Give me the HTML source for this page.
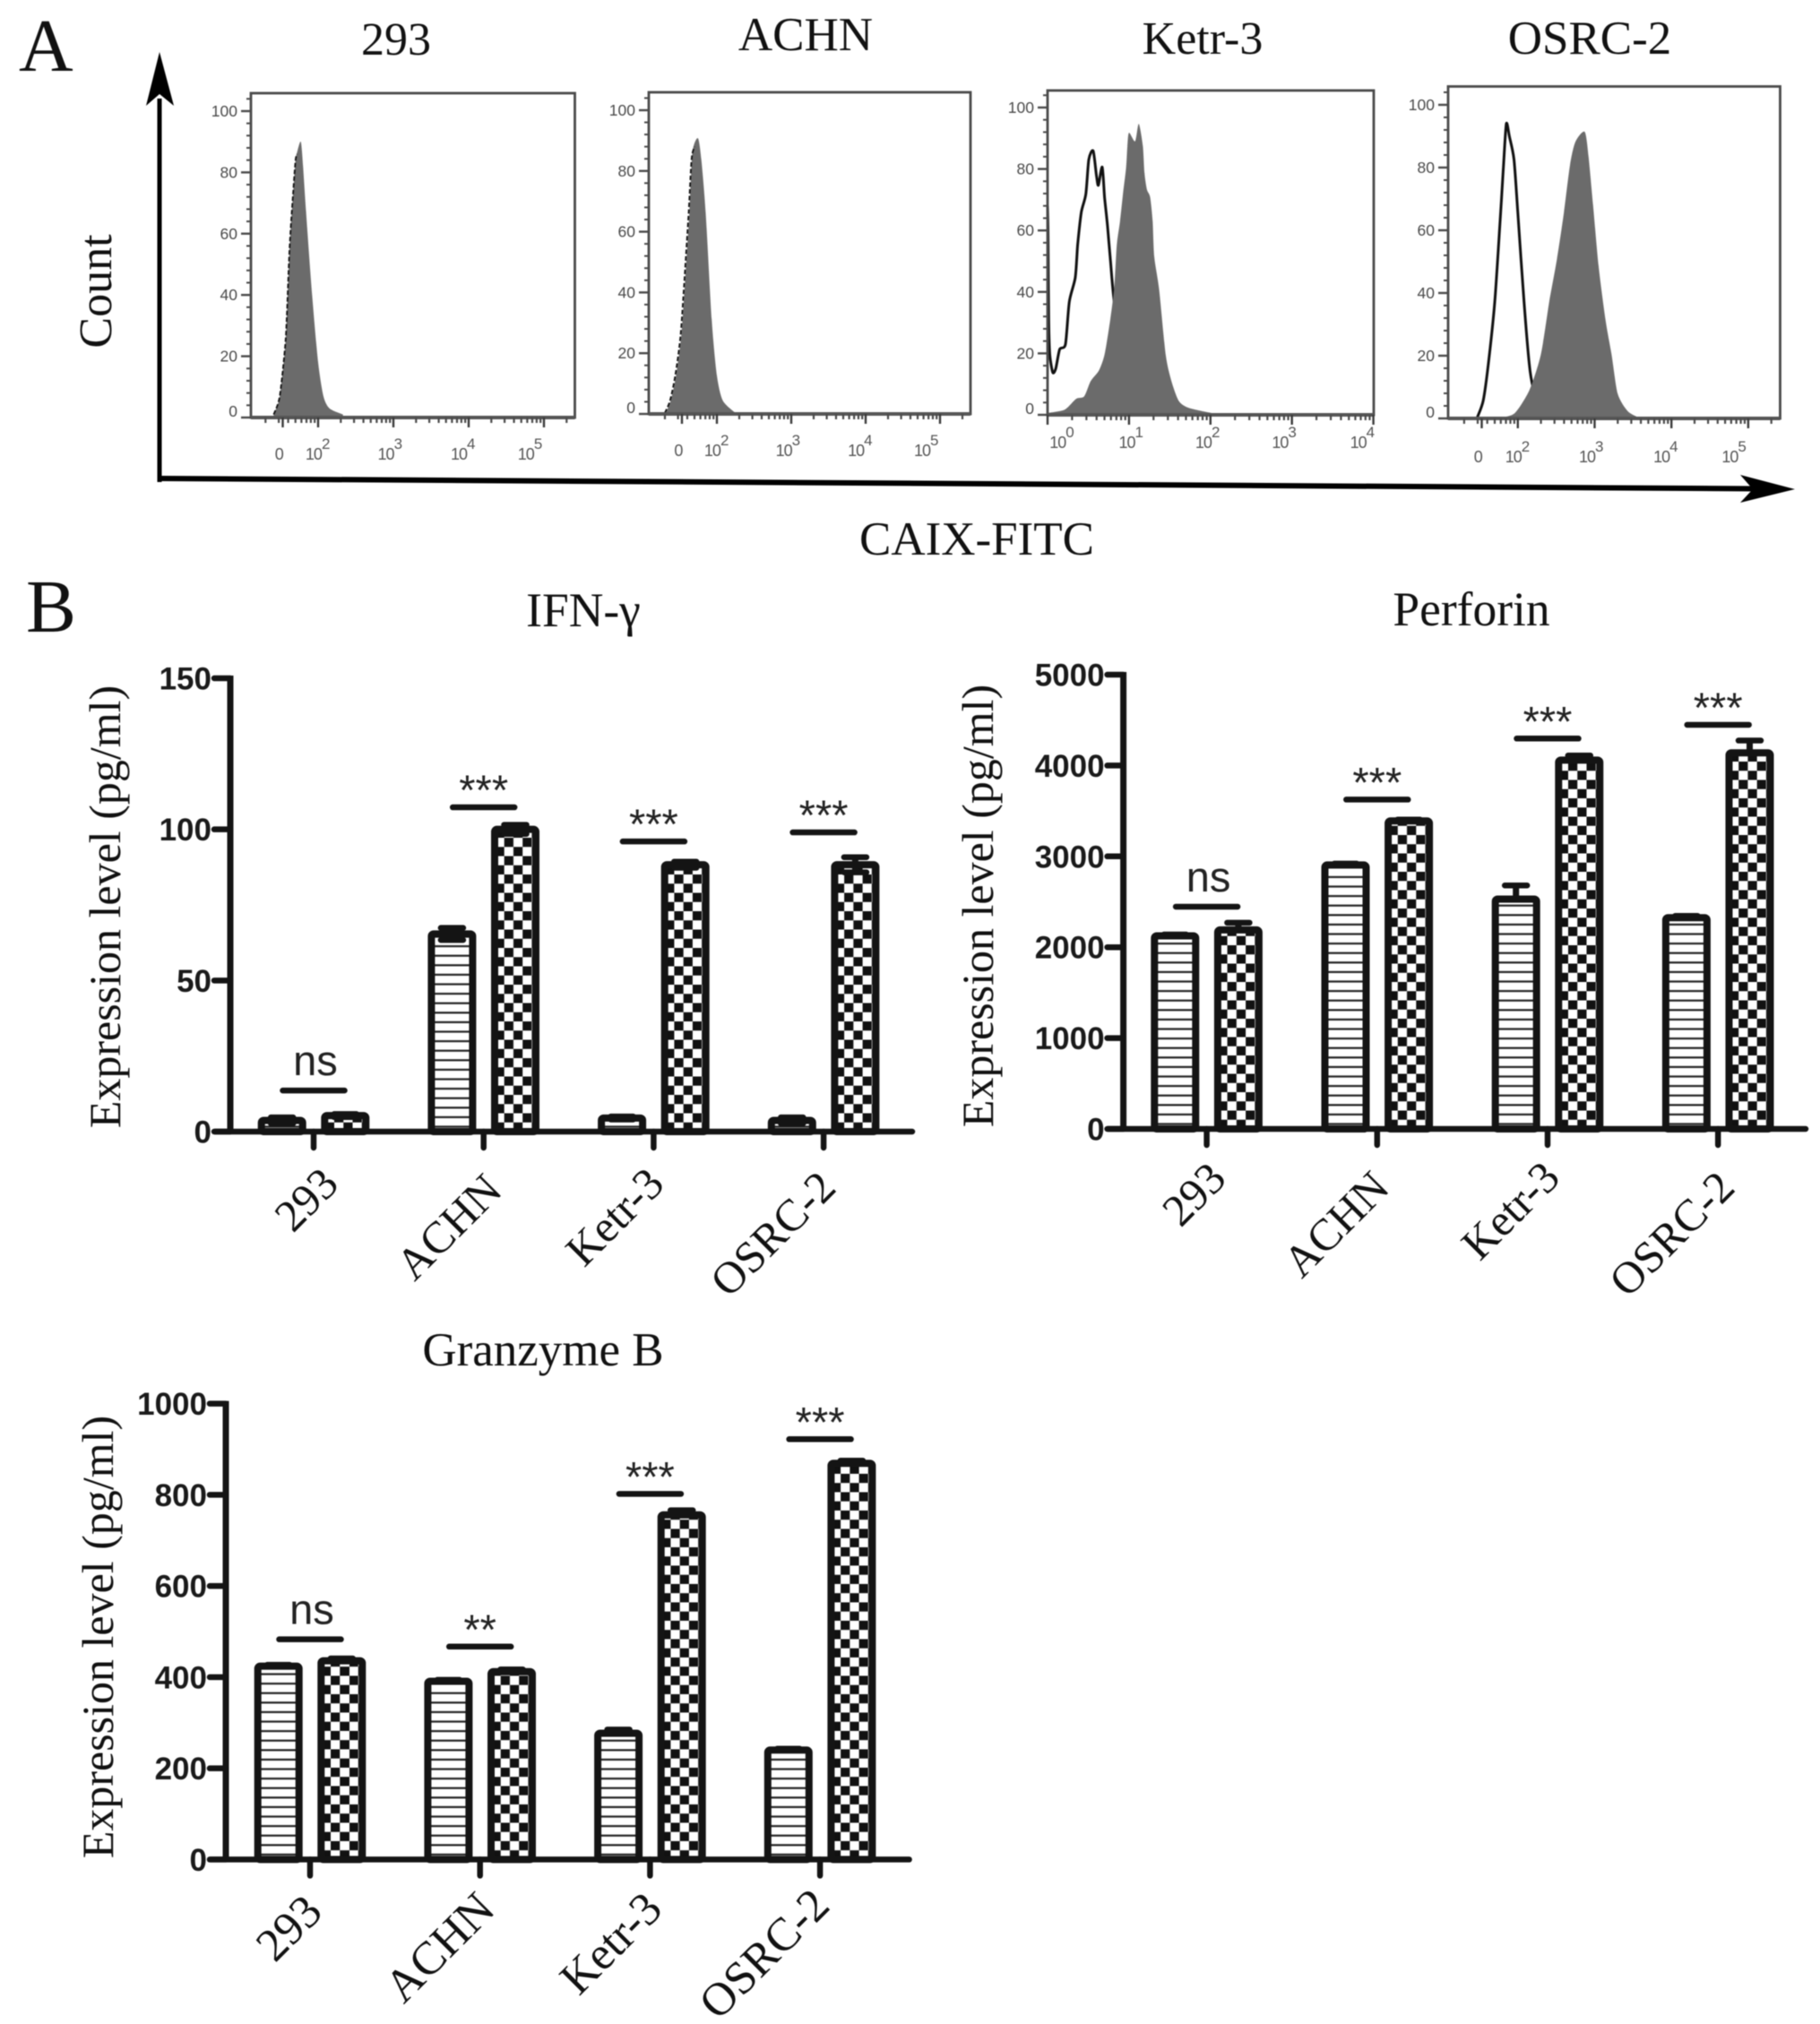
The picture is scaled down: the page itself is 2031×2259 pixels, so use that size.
<!DOCTYPE html>
<html lang="en">
<head>
<meta charset="utf-8">
<title>CAIX expression and cytokine release</title>
<style>
html,body{margin:0;padding:0;background:#fff;}
#figure{display:block;width:2031px;height:2259px;background:#fff;filter:blur(.5px);}
.serif{font-family:"Liberation Serif",serif;fill:#111;}
.sans{font-family:"Liberation Sans",sans-serif;}
</style>
</head>
<body>
<svg id="figure" xmlns="http://www.w3.org/2000/svg" width="2031" height="2259" viewBox="0 0 2031 2259">
  <defs>
    <pattern id="hatch-lines" patternUnits="userSpaceOnUse" width="10" height="10.6">
      <rect width="10" height="10.6" fill="#fff"/>
      <rect y="4" width="10" height="2.2" fill="#222"/>
    </pattern>
    <pattern id="hatch-check" patternUnits="userSpaceOnUse" width="20.5" height="20.5">
      <rect width="20.5" height="20.5" fill="#fff"/>
      <rect width="10.25" height="10.25" fill="#111"/>
      <rect x="10.25" y="10.25" width="10.25" height="10.25" fill="#111"/>
    </pattern>
  </defs>

  <text class="serif" x="21" y="79" font-size="84">A</text>
  <text class="serif" x="29" y="705" font-size="84">B</text>

  <text class="serif" x="442" y="61" font-size="52" text-anchor="middle">293</text>
  <text class="serif" x="899" y="56" font-size="53" text-anchor="middle">ACHN</text>
  <text class="serif" x="1342" y="60" font-size="52" text-anchor="middle">Ketr-3</text>
  <text class="serif" x="1774" y="60" font-size="53" text-anchor="middle">OSRC-2</text>

  <text class="serif" transform="translate(124,325) rotate(-90)" font-size="52" text-anchor="middle">Count</text>
  <text class="serif" x="1090" y="619" font-size="53" text-anchor="middle">CAIX-FITC</text>

  <g>
    <line x1="178" y1="538" x2="178" y2="110" stroke="#000" stroke-width="5"/>
    <polygon points="178,58 194,118 178,105 163,118" fill="#000"/>
  </g>
  <g>
    <line x1="178" y1="534" x2="1960" y2="545.5" stroke="#000" stroke-width="6"/>
    <polygon points="2003,546 1942,530 1956,546 1942,561" fill="#000"/>
  </g>

  <text class="serif" x="651" y="699" font-size="53.5" text-anchor="middle">IFN-γ</text>
  <text class="serif" x="1642" y="698" font-size="53.5" text-anchor="middle">Perforin</text>
  <text class="serif" x="606" y="1524" font-size="53" text-anchor="middle">Granzyme B</text>

  <text class="serif" transform="translate(134,1012) rotate(-90)" font-size="50" text-anchor="middle">Expression level (pg/ml)</text>
  <text class="serif" transform="translate(1108,1011) rotate(-90)" font-size="50" text-anchor="middle">Expression level (pg/ml)</text>
  <text class="serif" transform="translate(126,1827) rotate(-90)" font-size="50" text-anchor="middle">Expression level (pg/ml)</text>

  <g id="flow-layer"></g>
  <g id="bar-layer"></g>
</svg>

<script>
// ---------- Flow cytometry data (axis position in decades, count in %) ----------
const yCountTicks = [0, 20, 40, 60, 80, 100];

const biexpTicks = [1.53, 2, 3, 4, 5];
const biexpExponents = [null, 2, 3, 4, 5];
const biexpLabelAt = [1.48, 1.99, 2.95, 3.92, 4.81];
const logTicks = [0, 1, 2, 3, 4];
const logExponents = [0, 1, 2, 3, 4];
const logLabelAt = [0.17, 1.02, 1.96, 2.9, 3.86];

const fill293X = [1.41, 1.49, 1.57, 1.62, 1.67, 1.70, 1.72, 1.77, 1.80, 1.84, 1.92, 2.00, 2.07, 2.15, 2.33];
const fill293Count = [1, 7, 26, 55, 74, 84, 86.5, 90, 82, 67, 40, 18, 7, 3, 1];
const ctrl293X = [1.41, 1.49, 1.57, 1.62, 1.67, 1.70, 1.72];
const ctrl293Count = [1, 7, 26, 55, 74, 84, 86];

const fillAchnX = [1.31, 1.38, 1.45, 1.52, 1.57, 1.63, 1.67, 1.745, 1.79, 1.85, 1.93, 2.00, 2.08, 2.25];
const fillAchnCount = [0.3, 4.4, 12.6, 25.4, 42.9, 66.2, 86, 90.8, 83.8, 66.2, 31.2, 12.6, 4.4, 0.3];
const ctrlAchnX = [1.30, 1.37, 1.44, 1.51, 1.56, 1.62, 1.66, 1.70];
const ctrlAchnCount = [0.3, 4.4, 12.6, 25.4, 42.9, 66.2, 84, 88];

const fillKetrX = [0, 0.21, 0.35, 0.45, 0.53, 0.63, 0.70, 0.77, 0.82, 0.85, 0.89, 0.93, 0.965, 0.98, 1.0, 1.075, 1.12, 1.17, 1.19, 1.22, 1.26, 1.29, 1.31, 1.37, 1.45, 1.52, 1.61, 1.73, 2.01];
const fillKetrCount = [0.6, 1.7, 5.2, 6, 11, 14.4, 19.6, 31, 41.7, 55.4, 63, 72.8, 80.6, 87.4, 91.8, 89, 94.7, 87.4, 78.7, 73.3, 70.8, 63, 51.4, 40.8, 19.6, 11, 4.6, 2.3, 0.6];
const ctrlKetrX = [0, 0.007, 0.014, 0.028, 0.064, 0.10, 0.149, 0.22, 0.267, 0.34, 0.37, 0.415, 0.47, 0.506, 0.56, 0.60, 0.624, 0.671, 0.70, 0.737, 0.774, 0.81, 0.915, 1.02];
const ctrlKetrCount = [68, 57.7, 31, 19.6, 13.8, 15, 21.3, 23, 36.8, 44.6, 55.4, 66, 71.8, 83, 85.9, 78, 74.7, 80.6, 70.8, 61.2, 49.5, 38.8, 14, 1];

const fillOsrcX = [1.77, 1.96, 2.15, 2.30, 2.41, 2.51, 2.60, 2.68, 2.75, 2.87, 2.92, 2.98, 3.05, 3.14, 3.22, 3.30, 3.43, 3.58];
const fillOsrcCount = [0.2, 1.7, 9, 20.4, 37.3, 50.9, 65.6, 80.9, 88.2, 91.4, 83.7, 67.9, 48.9, 31.7, 20.4, 7.9, 2.3, 0.2];
const ctrlOsrcX = [1.47, 1.55, 1.62, 1.70, 1.77, 1.81, 1.85, 1.89, 1.95, 2.00, 2.08, 2.15, 2.20, 2.30];
const ctrlOsrcCount = [0.2, 5.7, 18.1, 37.3, 63.3, 79.2, 93.9, 89.9, 82.6, 65.6, 37.3, 17, 9.6, 1];

// ---------- Bar chart data ----------
const categories = ['293', 'ACHN', 'Ketr-3', 'OSRC-2'];

const ifnTicks = [0, 50, 100, 150];
const ifnEffector = [3.7, 65.4, 4.5, 3.7];
const ifnEffectorErr = [1, 2, 0.5, 1];
const ifnCar = [5.3, 100, 88.3, 88.3];
const ifnCarErr = [0.5, 1.5, 1, 2.5];
const ifnSigLevel = [13.6, 107.3, 96, 99];
const ifnSigLabel = ['ns', '***', '***', '***'];

const perfTicks = [0, 1000, 2000, 3000, 4000, 5000];
const perfEffector = [2125, 2905, 2530, 2325];
const perfEffectorErr = [15, 15, 150, 20];
const perfCar = [2190, 3390, 4060, 4140];
const perfCarErr = [80, 15, 50, 135];
const perfSigLevel = [2446, 3625, 4297, 4448];
const perfSigLabel = ['ns', '***', '***', '***'];

const gzmTicks = [0, 200, 400, 600, 800, 1000];
const gzmEffector = [424, 391, 277, 240];
const gzmEffectorErr = [3, 3, 8, 3];
const gzmCar = [436, 412, 756, 869];
const gzmCarErr = [5, 5, 10, 6];
const gzmSigLevel = [483, 467, 802, 922];
const gzmSigLabel = ['ns', '**', '***', '***'];

// ---------- Helpers ----------
const NS = 'http://www.w3.org/2000/svg';
function mk(parent, tag, attrs, text) {
  const el = document.createElementNS(NS, tag);
  for (const k in attrs) el.setAttribute(k, attrs[k]);
  if (text !== undefined) el.textContent = text;
  parent.appendChild(el);
  return el;
}
// Lightly smoothed curve through the read points
function pathFrom(xs, ys, xFn, yFn) {
  const px = xs.map(xFn);
  const py = ys.map(yFn);
  let d = 'M' + px[0].toFixed(1) + ' ' + py[0].toFixed(1);
  const k = 1 / 8;
  for (let i = 0; i < px.length - 1; i++) {
    const a = Math.max(i - 1, 0);
    const b = Math.min(i + 2, px.length - 1);
    const c1x = px[i] + (px[i + 1] - px[a]) * k;
    const c1y = py[i] + (py[i + 1] - py[a]) * k;
    const c2x = px[i + 1] - (px[b] - px[i]) * k;
    const c2y = py[i + 1] - (py[b] - py[i]) * k;
    d += ' C' + c1x.toFixed(1) + ' ' + c1y.toFixed(1) + ' ' + c2x.toFixed(1) + ' ' + c2y.toFixed(1) + ' ' + px[i + 1].toFixed(1) + ' ' + py[i + 1].toFixed(1);
  }
  return d;
}

// ---------- Flow histograms ----------
function drawFlow(name, cfg) {
  const layer = document.getElementById('flow-layer');
  const g = mk(layer, 'g', {});
  
  
  const xPos = d => cfg.originX + (d - cfg.originD) * cfg.decade;
  const yPos = c => cfg.y0 - c / 100 * (cfg.y0 - cfg.y100);

  if (!cfg.ctrlOnTop) {
    const ctrlUnder = mk(g, 'path', {d: pathFrom(cfg.ctrlX, cfg.ctrlC, xPos, yPos), fill: 'none', stroke: '#111', 'stroke-width': 3});
    
    
  }
  const first = xPos(cfg.fillX[0]).toFixed(1);
  const last = xPos(cfg.fillX[cfg.fillX.length - 1]).toFixed(1);
  const area = mk(g, 'path', {
    d: pathFrom(cfg.fillX, cfg.fillC, xPos, yPos) + ' L' + last + ' ' + cfg.y0 + ' L' + first + ' ' + cfg.y0 + ' Z',
    fill: '#6b6b6b'
  });
  
  
  if (cfg.ctrlOnTop) {
    const ctrlOver = mk(g, 'path', {d: pathFrom(cfg.ctrlX, cfg.ctrlC, xPos, yPos), fill: 'none', stroke: '#111', 'stroke-width': 1.8, 'stroke-dasharray': '5 2.5'});
    
    
  }

  const box = mk(g, 'rect', {x: cfg.left, y: cfg.top, width: cfg.right - cfg.left, height: cfg.y0 - cfg.top, fill: 'none', stroke: '#4a4a4a', 'stroke-width': 2.8});
  
  
  const base = mk(g, 'line', {x1: cfg.left, x2: cfg.right, y1: cfg.y0, y2: cfg.y0, stroke: '#555', 'stroke-width': 4});
  
  

  // y ticks
  for (let c = 0; c <= 105; c += 4) {
    const major = c % 20 === 0;
    const t = mk(g, 'line', {x1: cfg.left - (major ? 11 : 5), x2: cfg.left, y1: yPos(c), y2: yPos(c), stroke: '#4a4a4a', 'stroke-width': major ? 2.4 : 2});
    
    
  }
  yCountTicks.forEach(c => {
    const lab = mk(g, 'text', {class: 'sans', x: cfg.left - 15, y: yPos(c) + (c === 0 ? -1 : 6), 'font-size': 17.5, 'text-anchor': 'end', fill: '#4a4a4a'}, String(c));
    
    
  });

  // x ticks
  const minors = [2, 3, 4, 5, 6, 7, 8, 9].map(m => Math.log10(m));
  const startDec = Math.floor(cfg.minD);
  for (let dec = startDec; dec <= cfg.maxD; dec++) {
    minors.forEach(m => {
      const d = dec + m;
      if (d < cfg.minD || d > cfg.maxD) return;
      const t = mk(g, 'line', {x1: xPos(d), x2: xPos(d), y1: cfg.y0, y2: cfg.y0 + 6, stroke: '#4a4a4a', 'stroke-width': 2.2});
      
      
    });
  }
  cfg.ticks.forEach((d, i) => {
    const t = mk(g, 'line', {x1: xPos(d), x2: xPos(d), y1: cfg.y0, y2: cfg.y0 + 11, stroke: '#3a3a3a', 'stroke-width': 2.4});
    
    
    const exp = cfg.exps[i];
    const lab = mk(g, 'text', {class: 'sans', x: xPos(cfg.labelAt[i]), y: cfg.labelY, 'font-size': 18, 'letter-spacing': -1, 'text-anchor': 'middle', fill: '#555'}, exp === null ? '0' : '10');
    
    
    if (exp !== null) {
      mk(lab, 'tspan', {dy: -12, 'font-size': 17}, String(exp));
    }
  });
}

drawFlow('cell-293', {left: 280, right: 641.5, top: 104, y0: 466, y100: 124, originD: 2, originX: 355, decade: 84, minD: 1.11, maxD: 5.4, ticks: biexpTicks, exps: biexpExponents, labelAt: biexpLabelAt, labelY: 513, fillX: fill293X, fillC: fill293Count, ctrlX: ctrl293X, ctrlC: ctrl293Count, ctrlOnTop: true});
drawFlow('achn', {left: 724, right: 1083, top: 103, y0: 462, y100: 123, originD: 2, originX: 800, decade: 83, minD: 1.08, maxD: 5.4, ticks: biexpTicks, exps: biexpExponents, labelAt: biexpLabelAt, labelY: 509, fillX: fillAchnX, fillC: fillAchnCount, ctrlX: ctrlAchnX, ctrlC: ctrlAchnCount, ctrlOnTop: true});
drawFlow('ketr-3', {left: 1169, right: 1533, top: 101, y0: 463, y100: 120, originD: 0, originX: 1169, decade: 90.9, minD: 0, maxD: 4, ticks: logTicks, exps: logExponents, labelAt: logLabelAt, labelY: 500, fillX: fillKetrX, fillC: fillKetrCount, ctrlX: ctrlKetrX, ctrlC: ctrlKetrCount, ctrlOnTop: false});
drawFlow('osrc-2', {left: 1616, right: 1986.5, top: 96.5, y0: 467, y100: 117, originD: 2, originX: 1693.8, decade: 85.7, minD: 1.09, maxD: 5.4, ticks: biexpTicks, exps: biexpExponents, labelAt: biexpLabelAt, labelY: 516, fillX: fillOsrcX, fillC: fillOsrcCount, ctrlX: ctrlOsrcX, ctrlC: ctrlOsrcCount, ctrlOnTop: false});

// ---------- Bar charts ----------
const INK = '#141414';
function drawBars(name, cfg) {
  const layer = document.getElementById('bar-layer');
  const g = mk(layer, 'g', {});
  
  
  const max = cfg.ticks[cfg.ticks.length - 1];
  const yPos = v => cfg.y0 - v / max * (cfg.y0 - cfg.yTop);
  const xPos = i => cfg.x0 + i * cfg.step;

  const drawBar = (cx, value, err, pattern, seriesName, catName) => {
    const rectLeft = cx - 23;
    const originX = rectLeft + 10.7;
    const h = cfg.y0 - yPos(value);
    const bar = mk(g, 'rect', {x: -10.7, y: -h, width: 46, height: h, rx: 2.5, fill: 'url(#' + pattern + ')', stroke: INK, 'stroke-width': 8, transform: 'translate(' + originX.toFixed(2) + ',' + cfg.y0 + ')'});
    
    
    const bottomV = cfg.lowerErr ? value - err : value;
    const stem = mk(g, 'line', {x1: cx, x2: cx, y1: yPos(value + err), y2: Math.min(yPos(bottomV), cfg.y0), stroke: INK, 'stroke-width': 7});
    
    
    const capValues = cfg.lowerErr ? [value + err, value - err] : [value + err];
    capValues.forEach(v => {
      const cap = mk(g, 'line', {x1: cx - 12.5, x2: cx + 12.5, y1: Math.min(yPos(v), cfg.y0), y2: Math.min(yPos(v), cfg.y0), stroke: INK, 'stroke-width': 6.5, 'stroke-linecap': 'round'});
      
      
    });
  };

  categories.forEach((cat, i) => {
    const cx = xPos(i);
    const key = cat.toLowerCase();
    drawBar(cx - 35.3, cfg.effector[i], cfg.effectorErr[i], 'hatch-lines', 'effector', key);
    drawBar(cx + 35.3, cfg.car[i], cfg.carErr[i], 'hatch-check', 'car', key);

    const tick = mk(g, 'line', {x1: cx, x2: cx, y1: cfg.y0, y2: cfg.y0 + 18, stroke: INK, 'stroke-width': 6.5, 'stroke-linecap': 'round'});
    
    

    const nudge = cfg.labelNudge[i];
    const label = mk(g, 'text', {class: 'serif', 'font-size': cfg.labelSize, 'text-anchor': 'end', transform: 'translate(' + (cx + 20 + nudge[0]) + ',' + (cfg.y0 + 68 + nudge[1]) + ') rotate(-45)'}, cat);
    
    

    const sy = yPos(cfg.sigLevel[i]);
    const sigBar = mk(g, 'line', {x1: cx - 34.5, x2: cx + 34.5, y1: sy, y2: sy, stroke: INK, 'stroke-width': 6.5, 'stroke-linecap': 'round'});
    
    
    const isNs = cfg.sigLabel[i] === 'ns';
    const sigText = mk(g, 'text', {class: 'sans', x: cx + (isNs ? 2 : 0), y: sy - (isNs ? 17 : 3), 'font-size': isNs ? 47 : 47, 'text-anchor': 'middle', fill: '#222'}, cfg.sigLabel[i]);
    
    
  });

  const xAxis = mk(g, 'line', {x1: cfg.yAxisX - 17, x2: cfg.xEnd, y1: cfg.y0, y2: cfg.y0, stroke: INK, 'stroke-width': 6.5, 'stroke-linecap': 'round'});
  
  
  const yAxis = mk(g, 'line', {x1: cfg.yAxisX, x2: cfg.yAxisX, y1: cfg.yTop - 3, y2: cfg.y0, stroke: INK, 'stroke-width': 7});
  
  

  cfg.ticks.forEach(v => {
    const t = mk(g, 'line', {x1: cfg.yAxisX - 18, x2: cfg.yAxisX, y1: yPos(v), y2: yPos(v), stroke: INK, 'stroke-width': 6.5, 'stroke-linecap': 'round'});
    
    
    const lab = mk(g, 'text', {class: 'sans', x: cfg.yAxisX - 21, y: yPos(v) + 12.5, 'font-size': 35, 'font-weight': 'bold', 'text-anchor': 'end', fill: '#1a1a1a'}, String(v));
    
    
  });
}

drawBars('ifn-gamma', {x0: 350, step: 189.7, yAxisX: 257, yTop: 757, y0: 1263, xEnd: 1018, lowerErr: true, labelSize: 50, labelNudge: [[10, -7], [3, 0], [-6, -7], [-4, -3]], ticks: ifnTicks, effector: ifnEffector, effectorErr: ifnEffectorErr, car: ifnCar, carErr: ifnCarErr, sigLevel: ifnSigLevel, sigLabel: ifnSigLabel});
drawBars('perforin', {x0: 1346.6, step: 190.2, yAxisX: 1253.6, yTop: 753, y0: 1260, xEnd: 2015, lowerErr: false, labelSize: 50, labelNudge: [[4, -10], [-4, 0], [-4, -11], [1, 0]], ticks: perfTicks, effector: perfEffector, effectorErr: perfEffectorErr, car: perfCar, carErr: perfCarErr, sigLevel: perfSigLevel, sigLabel: perfSigLabel});
drawBars('granzyme-b', {x0: 346, step: 189.7, yAxisX: 252, yTop: 1566.6, y0: 2075.4, xEnd: 1014.6, lowerErr: false, labelSize: 52, labelNudge: [[-4, -7], [-1, -10], [-4, -10], [-7, -14]], ticks: gzmTicks, effector: gzmEffector, effectorErr: gzmEffectorErr, car: gzmCar, carErr: gzmCarErr, sigLevel: gzmSigLevel, sigLabel: gzmSigLabel});
</script>
</body>
</html>
